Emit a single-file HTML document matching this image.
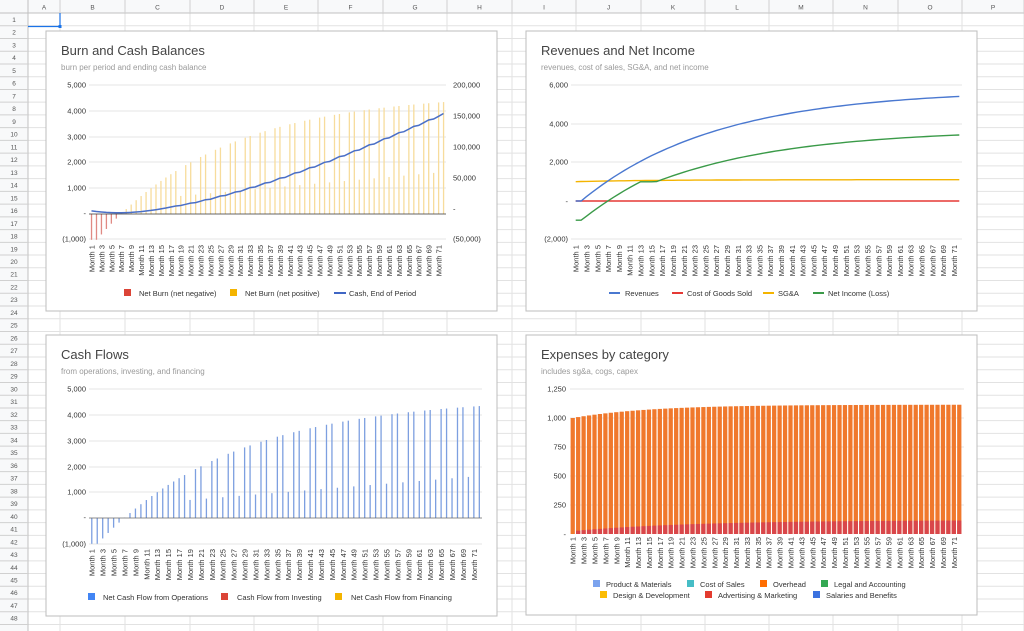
<!DOCTYPE html>
<html><head><meta charset="utf-8"><style>
html,body{margin:0;padding:0;background:#fff;}
svg{display:block;font-family:"Liberation Sans",Arial,sans-serif;}
</style></head><body>
<svg id="s" width="1024" height="631" xmlns="http://www.w3.org/2000/svg"></svg>
<script>
var S=document.getElementById('s');var o=[];
function r(x,y,w,h,f,e){o.push('<rect x="'+x+'" y="'+y+'" width="'+w+'" height="'+h+'" fill="'+f+'" '+(e||'')+'/>');}
function l(x1,y1,x2,y2,c,w){o.push('<line x1="'+x1+'" y1="'+y1+'" x2="'+x2+'" y2="'+y2+'" stroke="'+c+'" stroke-width="'+(w||1)+'"/>');}
function t(x,y,s,sz,c,a,ex){o.push('<text x="'+x+'" y="'+y+'" font-size="'+sz+'" fill="'+c+'" text-anchor="'+(a||'start')+'" '+(ex||'')+'>'+s+'</text>');}
var cols=[28,60,125,190,254,318,383,447,512,576,641,705,769,833,898,962,1024];var names="ABCDEFGHIJKLMNOP";
var rh=12.74;
for(var i=1;i<=48;i++){var y=13+i*rh;l(28,y,1024,y,'#e2e2e2');}
for(var i=0;i<cols.length;i++)l(cols[i],13,cols[i],631,'#e2e2e2');
r(0,0,1024,13,'#f8f9fa');r(0,0,28,631,'#f8f9fa');
l(0,13,1024,13,'#c0c0c0');l(28,0,28,631,'#c0c0c0');
for(var i=0;i<16;i++){l(cols[i+1],0,cols[i+1],13,'#d0d0d0');t((cols[i]+cols[i+1])/2,9.5,names[i],6.5,'#555','middle');}
for(var i=1;i<=48;i++){var y=13+i*rh;l(0,y,28,y,'#d0d0d0');t(14,y-3.8,i,6.5,'#555','middle');}
l(28,26.5,60,26.5,'#1a73e8',1.2);l(60,13,60,26.5,'#1a73e8',1.2);r(58.5,25,3,3,'#1a73e8');
var N=72,R=[],SG=[],NC=[],NI=[],CF=[];
for(var m=1;m<=N;m++){
 var rev=m<2?0:5800*(1-Math.exp(-(m-2)/25));R.push(rev);
 var sg=1000+110*(1-Math.exp(-m/15));SG.push(sg);
 var n=rev-sg; if(m<=2)n=-1000; NC.push(n);
 var ni=n<=1000?n:1000+Math.max(0,n-1400)*0.83; NI.push(ni);
 var v=n; if(m>=19&&(m-19)%3==0) v=700+(m-19)*17.5; CF.push(v);
}
var cum=[],c=0;for(var i=0;i<N;i++){c+=CF[i];cum.push(c);}
var sc=157000/cum[N-1];
function box(x,y,w,h,title,sub){r(x,y,w,h,'#fff','stroke="#bdbdbd" stroke-width="1"');t(x+15,y+24,title,13,'#444');t(x+15,y+39,sub,8,'#9a9a9a');}
function labels(x0,step,ytop){for(var m=1;m<=N;m+=2){var x=x0+(m-0.5)*step+3;t(x,ytop,'Month '+m,7.5,'#333','end','transform="rotate(-90 '+x+' '+ytop+')"');}}
function grid(x1,x2,ys,labs,lx){for(var i=0;i<ys.length;i++){l(x1,ys[i],x2,ys[i],'#e6e6e6');t(lx,ys[i]+2.5,labs[i],7.5,'#333','end');}}
box(46,31,451,280,'Burn and Cash Balances','burn per period and ending cash balance');
grid(89,446,[85,111,137,162,188,239],['5,000','4,000','3,000','2,000','1,000','(1,000)'],86);
t(86,216,'-',7.5,'#333','end');
var rl=['200,000','150,000','100,000','50,000','-','(50,000)'],ry=[85,116,147,178,209,239];
for(var i=0;i<6;i++)t(453,ry[i]+2.5,rl[i],7.5,'#333');
var st1=(446-89)/N;
for(var i=0;i<N;i++){var v=CF[i],x=89+(i+0.5)*st1-0.6,h=v*25.8/1000;
 if(v>=0)r(x,214-h,1.3,h,'#f7dc9c');else r(x,214,1.3,-h,'#e08a84');}
l(89,214,446,214,'#333',0.8);
var p='';for(var i=0;i<N;i++){var x=89+(i+0.5)*st1,y=209-(cum[i]*sc-2000)*30.8/50000;p+=(i?'L':'M')+x.toFixed(1)+' '+y.toFixed(1);}
o.push('<path d="'+p+'" fill="none" stroke="#4a6fc7" stroke-width="1.5"/>');
labels(89,st1,245);
r(124,289,7,7,'#db4437');t(139,296,'Net Burn (net negative)',7.5,'#333');
r(230,289,7,7,'#f4b400');t(245,296,'Net Burn (net positive)',7.5,'#333');
l(334,293,346,293,'#3f66c4',2);t(349,296,'Cash, End of Period',7.5,'#333');
box(526,31,451,280,'Revenues and Net Income','revenues, cost of sales, SG&amp;A, and net income');
grid(571,962,[85,124,162,239],['6,000','4,000','2,000','(2,000)'],568);t(568,204,'-',7.5,'#333','end');
var st2=(962-573)/N;
function line(arr,col){var p='';for(var i=0;i<N;i++){var x=573+(i+0.5)*st2,y=201-arr[i]*19.2/1000;p+=(i?'L':'M')+x.toFixed(1)+' '+y.toFixed(1);}o.push('<path d="'+p+'" fill="none" stroke="'+col+'" stroke-width="1.4"/>');}
var Z=[];for(var i=0;i<N;i++)Z.push(0);
line(Z,'#e53935');line(SG,'#f4b400');line(R,'#4a78d0');line(NI,'#3a9a48');
labels(573,st2,245);
l(609,293,620,293,'#4a78d0',2);t(625,296,'Revenues',7.5,'#333');
l(672,293,683,293,'#e53935',2);t(687,296,'Cost of Goods Sold',7.5,'#333');
l(763,293,774,293,'#f4b400',2);t(778,296,'SG&amp;A',7.5,'#333');
l(813,293,824,293,'#3a9a48',2);t(828,296,'Net Income (Loss)',7.5,'#333');
box(46,335,451,281,'Cash Flows','from operations, investing, and financing');
grid(89,482,[389,415,441,467,492,544],['5,000','4,000','3,000','2,000','1,000','(1,000)'],86);t(86,520,'-',7.5,'#333','end');
var st3=(482-89)/N;
for(var i=0;i<N;i++){var v=CF[i],x=89+(i+0.5)*st3-0.6,h=v*25.8/1000;
 if(v>=0)r(x,518-h,1.3,h,'#7d9fe0');else r(x,518,1.3,-h,'#7d9fe0');}
l(89,518,482,518,'#666',0.8);
labels(89,st3,549);
r(88,593,7,7,'#4285f4');t(103,600,'Net Cash Flow from Operations',7.5,'#333');
r(221,593,7,7,'#db4437');t(237,600,'Cash Flow from Investing',7.5,'#333');
r(335,593,7,7,'#f4b400');t(351,600,'Net Cash Flow from Financing',7.5,'#333');
box(526,335,451,280,'Expenses by category','includes sg&amp;a, cogs, capex');
grid(570,964,[389,418,447,476,505],['1,250','1,000','750','500','250'],566);t(566,537,'-',7.5,'#333','end');
var st4=(962-570)/N;
for(var i=0;i<N;i++){var tot=1000+115*(1-Math.exp(-i/14)),red=Math.min(118,i<1?0:25+95*(1-Math.exp(-i/22)));
 var x=570+i*st4+0.6,w=st4-1.2;
 r(x,534-tot*0.116,w,tot*0.116,'#f0782c');r(x,534-red*0.116,w,red*0.116,'#d9464a');}
labels(570,st4,537);
var L4=[[593,586,'#7ba3ee','Product &amp; Materials'],[687,586,'#46bdc6','Cost of Sales'],[760,586,'#ff6d01','Overhead'],[821,586,'#34a853','Legal and Accounting'],[600,597,'#fbbc04','Design &amp; Development'],[705,597,'#e33b2f','Advertising &amp; Marketing'],[813,597,'#3b72e0','Salaries and Benefits']];
for(var i=0;i<L4.length;i++){r(L4[i][0],L4[i][1]-6,7,7,L4[i][2]);t(L4[i][0]+13,L4[i][1]+1,L4[i][3],7.5,'#333');}
S.innerHTML=o.join('');
</script>
</body></html>
